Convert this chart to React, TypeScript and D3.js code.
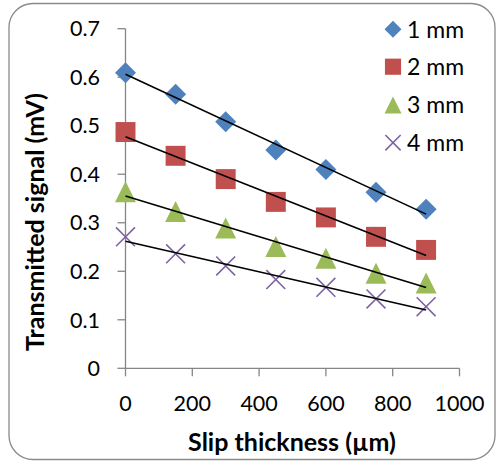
import React from "react";
import * as d3 from "d3";

const thickness = [0, 150, 300, 450, 600, 750, 900];
const series1mm = [0.609, 0.565, 0.508, 0.45, 0.41, 0.363, 0.328];
const series2mm = [0.487, 0.438, 0.39, 0.343, 0.311, 0.271, 0.244];
const series3mm = [0.364, 0.323, 0.289, 0.251, 0.227, 0.196, 0.176];
const series4mm = [0.271, 0.236, 0.211, 0.183, 0.167, 0.143, 0.127];
const seriesNames = ["1 mm", "2 mm", "3 mm", "4 mm"];
const xTicks = [0, 200, 400, 600, 800, 1000];
const yTicks = [0, 0.1, 0.2, 0.3, 0.4, 0.5, 0.6, 0.7];

const colors = ["#4F81BD", "#C0504D", "#9BBB59", "#8064A2"];
const shapes = ["diamond", "square", "triangle", "x"];
const FONT = "Lato, 'Open Sans', sans-serif";

function Marker({ shape, color, x, y, s }: { shape: string; color: string; x: number; y: number; s: number }) {
  const h = s / 2;
  if (shape === "diamond")
    return <path d={`M${x},${y - h}L${x + h},${y}L${x},${y + h}L${x - h},${y}Z`} fill={color} />;
  if (shape === "square")
    return <rect x={x - h * 0.95} y={y - h * 0.95} width={s * 0.95} height={s * 0.95} fill={color} />;
  if (shape === "triangle")
    return <path d={`M${x},${y - h}L${x + h},${y + h}L${x - h},${y + h}Z`} fill={color} />;
  const k = h * 0.9;
  return (
    <path d={`M${x - k},${y - k}L${x + k},${y + k}M${x - k},${y + k}L${x + k},${y - k}`} stroke={color} strokeWidth={1.6} fill="none" />
  );
}

function regression(xs: number[], ys: number[]) {
  const mx = d3.mean(xs)!;
  const my = d3.mean(ys)!;
  let sxy = 0, sxx = 0;
  xs.forEach((x, i) => { sxy += (x - mx) * (ys[i] - my); sxx += (x - mx) ** 2; });
  const b = sxy / sxx;
  return (x: number) => my + b * (x - mx);
}

export default function App() {
  const W = 497, H = 463;
  const x = d3.scaleLinear().domain([0, 1000]).range([125.5, 459.5]);
  const y = d3.scaleLinear().domain([0, 0.7]).range([368.3, 28.7]);
  const all = [series1mm, series2mm, series3mm, series4mm];
  const axisColor = "#868686";
  return (
    <svg width={W} height={H} style={{ position: "absolute", left: 0, top: 0 }}>
      <rect x={9} y={3.5} width={486} height={456} rx={24} ry={24} fill="#fff" stroke="#8a8a8a" strokeWidth={1.3} />
      {/* axes */}
      <line x1={x(0)} x2={x(0)} y1={y(0.7)} y2={y(0)} stroke={axisColor} strokeWidth={1.3} />
      <line x1={x(0)} x2={x(1000)} y1={y(0)} y2={y(0)} stroke={axisColor} strokeWidth={1.3} />
      {yTicks.map((t) => (
        <g key={t}>
          <line x1={x(0) - 8} x2={x(0)} y1={y(t)} y2={y(t)} stroke={axisColor} strokeWidth={1.3} />
          <text x={100} y={y(t)} dy="0.36em" textAnchor="end" fontFamily={FONT} fontSize={21.5} fill="#000">
            {t === 0 ? "0" : d3.format(".1f")(t)}
          </text>
        </g>
      ))}
      {xTicks.map((t) => (
        <g key={t}>
          <line x1={x(t)} x2={x(t)} y1={y(0)} y2={y(0) + 8} stroke={axisColor} strokeWidth={1.3} />
          <text x={x(t)} y={403} dy="0.36em" textAnchor="middle" fontFamily={FONT} fontSize={21.5} fill="#000">
            {t}
          </text>
        </g>
      ))}
      {/* markers */}
      {all.map((s, si) =>
        s.map((v, i) => (
          <Marker key={`${si}-${i}`} shape={shapes[si]} color={colors[si]} x={x(thickness[i])} y={y(v)} s={21} />
        ))
      )}
      {/* trendlines */}
      {all.map((s, si) => {
        const f = regression(thickness, s);
        return (
          <line key={`t${si}`} x1={x(0)} y1={y(f(0))} x2={x(900)} y2={y(f(900))} stroke="#000" strokeWidth={1.6} />
        );
      })}
      {/* legend */}
      {seriesNames.map((n, i) => {
        const ly = [29.3, 66.7, 105, 142.7][i];
        return (
          <g key={n}>
            <Marker shape={shapes[i]} color={colors[i]} x={393} y={ly} s={17} />
            <text x={407} y={ly} dy="0.36em" fontFamily={FONT} fontSize={23} fill="#000">{n}</text>
          </g>
        );
      })}
      {/* axis titles */}
      <text x={292} y={442} dy="0.36em" textAnchor="middle" fontFamily={FONT} fontSize={25} fontWeight="bold" fill="#000">
        Slip thickness (µm)
      </text>
      <text transform={`translate(35,222) rotate(-90)`} dy="0.36em" textAnchor="middle" fontFamily={FONT} fontSize={25} fontWeight="bold" fill="#000">
        Transmitted signal (mV)
      </text>
    </svg>
  );
}
